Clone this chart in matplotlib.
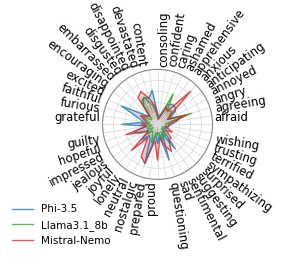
import numpy as np
import matplotlib
matplotlib.use("Agg")
import matplotlib.pyplot as plt

categories = ["afraid", "agreeing", "angry", "annoyed", "anticipating", "anxious",
              "apprehensive", "ashamed", "caring", "confident", "consoling", "content",
              "devastated", "disappointed", "disgusted", "embarrassed", "encouraging",
              "excited", "faithful", "furious", "grateful", "guilty", "hopeful",
              "impressed", "jealous", "joyful", "lonely", "neutral", "nostalgic",
              "prepared", "proud", "questioning", "sad", "sentimental", "suggesting",
              "surprised", "sympathizing", "terrified", "trusting", "wishing"]

phi = [0.25, 0.35, 0.45, 0.25, 0.40, 0.45, 0.45, 0.40, 0.20, 0.15,
       0.20, 0.63, 0.50, 0.55, 0.45, 0.20, 0.30, 0.74, 0.35, 0.25,
       0.65, 0.20, 0.45, 0.35, 0.20, 0.40, 0.25, 0.30, 0.75, 0.20,
       0.35, 0.20, 0.68, 0.20, 0.55, 0.15, 0.20, 0.15, 0.20, 0.20]
llama = [0.15, 0.20, 0.65, 0.20, 0.30, 0.35, 0.30, 0.62, 0.15, 0.10,
         0.15, 0.30, 0.40, 0.55, 0.50, 0.15, 0.15, 0.30, 0.20, 0.15,
         0.25, 0.10, 0.20, 0.20, 0.10, 0.25, 0.15, 0.20, 0.35, 0.15,
         0.20, 0.15, 0.30, 0.15, 0.25, 0.10, 0.15, 0.10, 0.15, 0.15]
mistral = [0.20, 0.30, 0.55, 0.20, 0.30, 0.85, 0.30, 0.35, 0.15, 0.10,
           0.15, 0.35, 0.50, 0.67, 0.60, 0.20, 0.25, 0.35, 0.25, 0.20,
           0.30, 0.20, 0.60, 0.30, 0.20, 0.67, 0.30, 0.65, 0.75, 0.30,
           0.65, 0.25, 0.40, 0.55, 0.35, 0.35, 0.20, 0.30, 0.15, 0.20]

series = [("Phi-3.5", phi, "#1f77b4"),
          ("Llama3.1_8b", llama, "#2ca02c"),
          ("Mistral-Nemo", mistral, "#d62728")]

n = len(categories)
angles = np.linspace(0, 2 * np.pi, n, endpoint=False)

fig = plt.figure(figsize=(2.88, 2.71), dpi=100)
ax = fig.add_axes([0.356, 0.338, 0.382, 0.406], projection="polar")

for name, vals, col in series:
    v = np.array(vals + vals[:1])
    a = np.concatenate([angles, angles[:1]])
    ax.plot(a, v, color=col, linewidth=1.0, alpha=0.75, label=name)
    ax.fill(a, v, color=col, alpha=0.25)

ax.set_ylim(0, 1)
ax.set_yticks([0.2, 0.4, 0.6, 0.8, 1.0])
ax.set_yticklabels([])
ax.set_xticks(angles)
ax.set_xticklabels([])
ax.grid(color="#dddddd", linewidth=0.6)
ax.spines["polar"].set_color("#888888")
ax.spines["polar"].set_linewidth(0.8)

for ang, lab in zip(angles, categories):
    deg = np.degrees(ang)
    if 90 < deg <= 270:
        rot = deg + 180
        ha = "right"
    else:
        rot = deg
        ha = "left"
    va = "bottom" if deg <= 180 else "top"
    ax.text(ang, 1.04, lab, rotation=rot, rotation_mode="default",
            ha=ha, va=va, fontsize=8.4)

fig.legend(loc="lower left", bbox_to_anchor=(0.02, 0.07), frameon=False,
           fontsize=7.5, handlelength=2.0, labelspacing=0.5, borderaxespad=0.2)

fig.savefig("out.png", dpi=100)
